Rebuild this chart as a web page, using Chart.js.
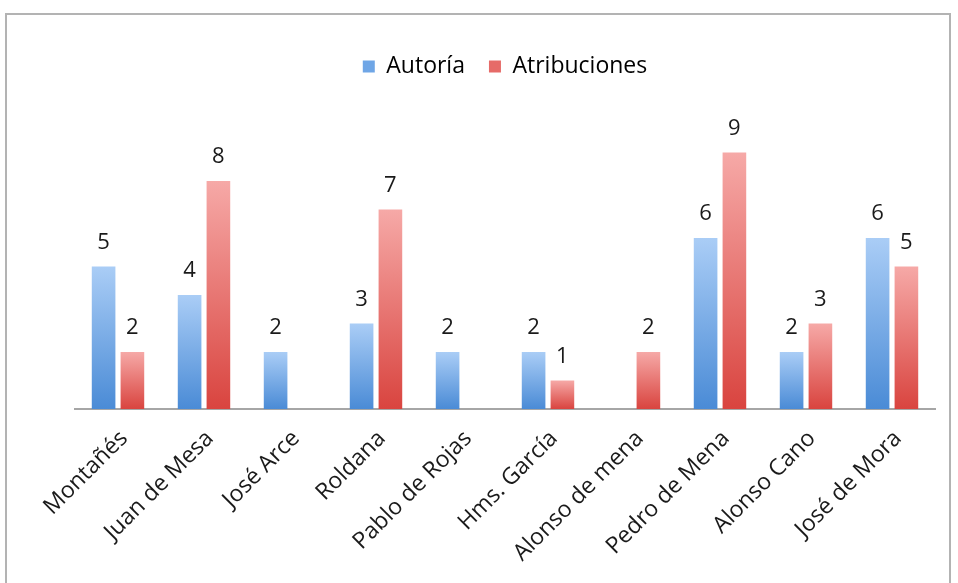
<!DOCTYPE html>
<html>
<head>
<meta charset="utf-8">
<script src="https://cdn.jsdelivr.net/npm/chart.js@4"></script>
<style>
  body { margin: 0; background: #fff; }
  #frame { position: absolute; left: 5px; top: 13px; width: 946px; height: 620px; border: 2px solid #b3b3b3; box-sizing: border-box; }
  #wrap { position: absolute; left: 0; top: 0; width: 958px; height: 583px; }
</style>
</head>
<body>
<div id="frame"></div>
<div id="wrap"><canvas id="chart"></canvas></div>
<script>
// escultores
const categories = ["Montañés", "Juan de Mesa", "José Arce", "Roldana", "Pablo de Rojas",
  "Hms. García", "Alonso de mena", "Pedro de Mena", "Alonso Cano", "José de Mora"];
const autoria = [5, 4, 2, 3, 2, 2, null, 6, 2, 6];
const atribuciones = [2, 8, null, 7, null, 1, 2, 9, 3, 5];

const fontName = "'Open Sans', Lato, sans-serif";

// gradient for each bar, light on top, dark at the base
function barGradient(light, dark) {
  return function (ctx) {
    const chart = ctx.chart;
    const y = chart.scales && chart.scales.y;
    if (!y || ctx.raw == null || !chart.chartArea) return dark;
    const top = y.getPixelForValue(ctx.raw);
    const base = y.getPixelForValue(0);
    if (!isFinite(top) || top === base) return dark;
    const g = chart.ctx.createLinearGradient(0, top, 0, base);
    g.addColorStop(0, light);
    g.addColorStop(1, dark);
    return g;
  };
}

const valueLabels = {
  id: 'valueLabels',
  afterDatasetsDraw(chart) {
    const ctx = chart.ctx;
    ctx.save();
    ctx.font = "22px " + fontName;
    ctx.fillStyle = "#1a1a1a";
    ctx.textAlign = "center";
    ctx.textBaseline = "bottom";
    chart.data.datasets.forEach((ds, i) => {
      chart.getDatasetMeta(i).data.forEach((bar, j) => {
        if (ds.data[j] == null) return;
        ctx.fillText(String(ds.data[j]), bar.x, bar.y - 13);
      });
    });
    ctx.restore();
  }
};

const legendSpace = {
  id: 'legendSpace',
  beforeInit(chart) {
    const fit = chart.legend.fit;
    chart.legend.fit = function () {
      fit.call(this);
      this.height += 36;
    };
  }
};

new Chart(document.getElementById("chart"), {
  type: 'bar',
  data: {
    labels: categories,
    datasets: [
      {
        label: "Autoría",
        data: autoria,
        backgroundColor: barGradient("#aacdf6", "#4a8bd6")
      },
      {
        label: "Atribuciones",
        data: atribuciones,
        backgroundColor: barGradient("#f6a9a7", "#d9443f")
      }
    ]
  },
  options: {
    responsive: true,
    maintainAspectRatio: false,
    animation: false,
    categoryPercentage: 0.67,
    barPercentage: 0.82,
    layout: { padding: { top: 31, left: 75, right: 23, bottom: 0 } },
    plugins: {
      legend: {
        position: 'top',
        labels: {
          boxWidth: 12,
          boxHeight: 12,
          padding: 24,
          color: "#1a1a1a",
          font: { family: fontName, size: 23 },
          generateLabels(chart) {
            return chart.data.datasets.map((ds, i) => ({
              text: ds.label,
              fillStyle: i === 0 ? "#6fa6e6" : "#e66b68",
              strokeStyle: "rgba(0,0,0,0)",
              lineWidth: 0,
              datasetIndex: i
            }));
          }
        }
      },
      tooltip: { enabled: false }
    },
    scales: {
      x: {
        grid: { display: false },
        border: { display: true, color: "#a6a6a6", width: 2 },
        ticks: {
          minRotation: 45,
          maxRotation: 45,
          padding: 8,
          labelOffset: 6,
          color: "#1a1a1a",
          font: { family: fontName, size: 23 }
        },
        afterFit(scale) { scale.height = 174; }
      },
      y: {
        display: false,
        min: 0,
        max: 10
      }
    }
  },
  plugins: [valueLabels, legendSpace]
});
</script>
</body>
</html>
